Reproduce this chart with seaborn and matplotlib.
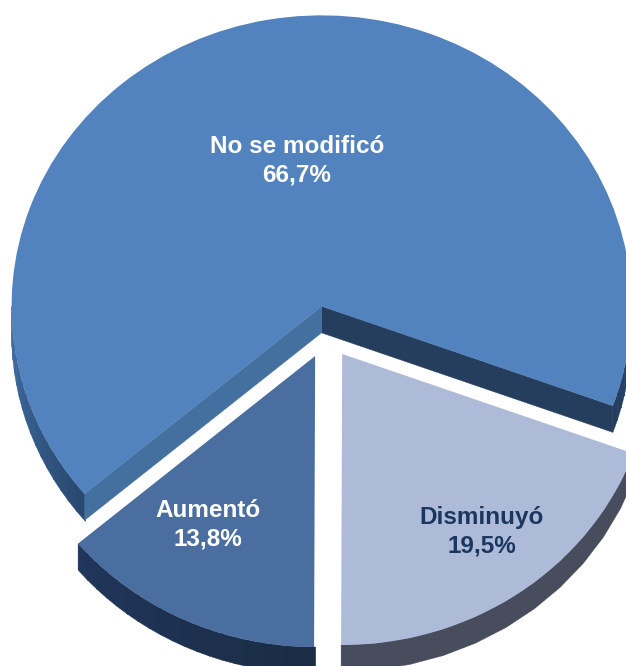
import matplotlib
matplotlib.use("Agg")
import matplotlib.pyplot as plt
import numpy as np
import seaborn as sns

categories = ["No se modificó", "Aumentó", "Disminuyó"]
values = [66.7, 13.8, 19.5]
value_labels = ["66,7%", "13,8%", "19,5%"]
top_colors = ["#5283BE", "#4A6EA0", "#ADBAD8"]
text_colors = ["white", "white", "#1B3760"]
text_px = [(297, 161), (208, 525), (482, 532)]
explode = [0.093, 0.0873, 0.0879]

RX, RY, CX, CY, DEPTH = 310.0, 291.0, 326.6, 333.0, 26.5
W, H = 626, 666

sns.set_theme(style="white")
plt.rcParams["font.family"] = ["Liberation Sans", "DejaVu Sans"]

fig = plt.figure(figsize=(W / 100, H / 100), dpi=100, facecolor="white")
ax = fig.add_axes([0, 0, 1, 1])

wedges, _ = ax.pie(values, colors=top_colors, startangle=-20, counterclock=True,
                   explode=explode, radius=1, normalize=True,
                   wedgeprops=dict(linewidth=0, antialiased=True))
for w in wedges:
    w.set_zorder(5)
ax.set_aspect("auto")
ax.set_xlim(-CX / RX, (W - CX) / RX)
ax.set_ylim((CY - H) / RY, CY / RY)
ax.axis("off")
d = DEPTH / RY

rim_left = sns.blend_palette(["#3F6FA6", "#2A4A70"], 16)
rim_right = sns.blend_palette(["#253E5E", "#2A4A70"], 8)
rim_a = sns.blend_palette(["#20365A", "#1A2C46"], 20)
rim_d = ["#484D5D"]


def rim(w, a0, a1, palette):
    edges = np.linspace(a0, a1, len(palette) + 1)
    cx, cy = w.center
    for i, col in enumerate(palette):
        t = np.radians(np.linspace(edges[i], edges[i + 1] + 0.3, 12))
        xs = cx + w.r * np.cos(t)
        ys = cy + w.r * np.sin(t)
        ax.fill(np.r_[xs, xs[::-1]], np.r_[ys, ys[::-1] - d], color=col, lw=0.3, zorder=2)


def wall(w, angle, col):
    cx, cy = w.center
    t = np.radians(angle)
    xs = np.array([cx, cx + w.r * np.cos(t)])
    ys = np.array([cy, cy + w.r * np.sin(t)])
    ax.fill(np.r_[xs, xs[::-1]], np.r_[ys, ys[::-1] - d], color=col, lw=0.3, zorder=3)


blue, aum, dis = wedges
rim(blue, 180, blue.theta2, rim_left)
rim(blue, blue.theta1, 0, rim_right)
rim(aum, aum.theta1, aum.theta2, rim_a)
rim(dis, dis.theta1, dis.theta2, rim_d)
wall(blue, blue.theta1, "#253E5E")
wall(blue, blue.theta2, "#44709F")

for cat, val, col, (px, py) in zip(categories, value_labels, text_colors, text_px):
    ax.text(px / W, 1 - py / H, f"{cat}\n{val}", transform=ax.transAxes, ha="center", va="center",
            color=col, fontsize=17.5, fontweight="bold", linespacing=1.32, zorder=10)

fig.savefig("out.png", dpi=100, facecolor="white")
